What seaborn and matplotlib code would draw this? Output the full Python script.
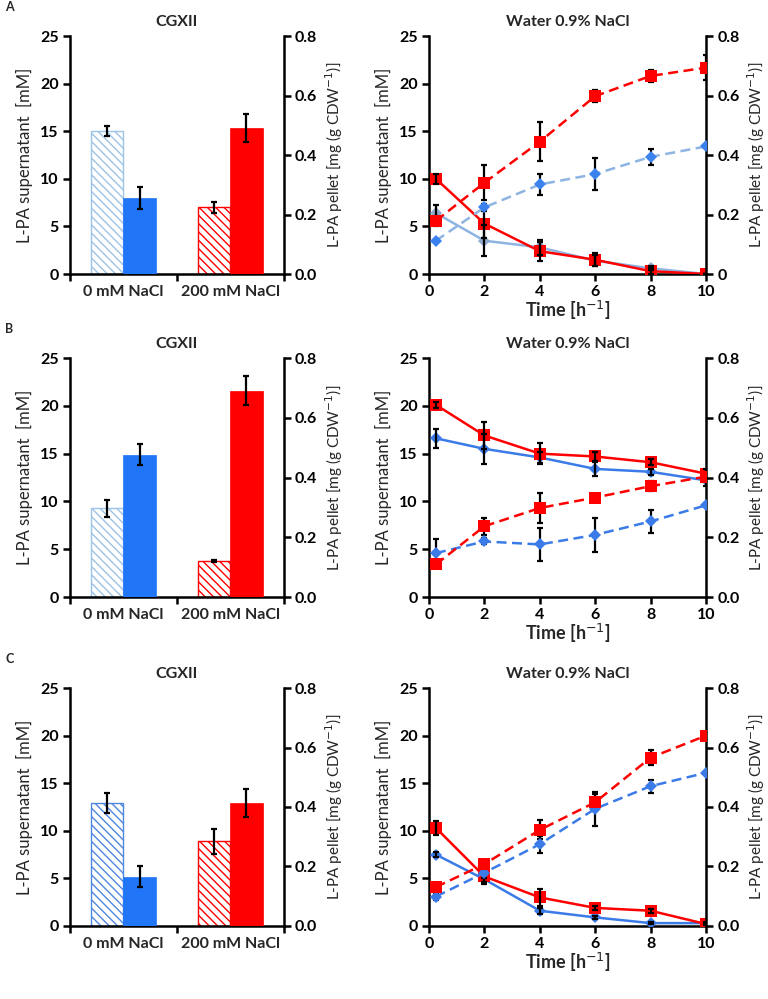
import numpy as np
import matplotlib
matplotlib.use("Agg")
import matplotlib.pyplot as plt
import seaborn as sns
from matplotlib.ticker import FixedLocator, NullFormatter, FixedFormatter

sns.set_theme(style="ticks")
plt.rcParams["font.family"] = ["Lato", "DejaVu Sans"]
plt.rcParams["hatch.linewidth"] = 1.0

# ---------------- data ----------------
conditions = ["0 mM NaCl", "200 mM NaCl"]
time = [0.25, 2, 4, 6, 8, 10]

# Bars: supernatant (hatched, mM) and pellet (solid, mg/g CDW)
A_bar_sup = [15.0, 7.0];      A_bar_sup_err = [0.5, 0.6]
A_bar_pel = [0.256, 0.491];   A_bar_pel_err = [0.036, 0.046]
B_bar_sup = [9.3, 3.8];       B_bar_sup_err = [0.9, 0.1]
B_bar_pel = [0.477, 0.691];   B_bar_pel_err = [0.035, 0.048]
C_bar_sup = [12.9, 8.9];      C_bar_sup_err = [1.05, 1.3]
C_bar_pel = [0.166, 0.413];   C_bar_pel_err = [0.035, 0.048]

# Time courses: supernatant (solid lines, mM), pellet (dashed, mg/g CDW)
A_sup_red = [10.0, 5.3, 2.4, 1.5, 0.3, 0.0];   A_sup_red_err = [0.5, 1.5, 1.0, 0.7, 0.3, 0.0]
A_sup_blue = [6.4, 3.5, 2.8, 1.4, 0.6, 0.0];   A_sup_blue_err = [0.9, 1.6, 0.8, 0.6, 0.2, 0.0]
A_pel_red = [0.179, 0.307, 0.445, 0.598, 0.666, 0.694]; A_pel_red_err = [0.016, 0.058, 0.066, 0.019, 0.019, 0.042]
A_pel_blue = [0.112, 0.224, 0.301, 0.336, 0.394, 0.429]; A_pel_blue_err = [0.006, 0.013, 0.035, 0.054, 0.026, 0.0]

B_sup_red = [20.1, 16.9, 15.0, 14.7, 14.1, 12.9]; B_sup_red_err = [0.3, 1.4, 1.1, 0.5, 0.3, 0.5]
B_sup_blue = [16.6, 15.5, 14.6, 13.4, 13.1, 12.2]; B_sup_blue_err = [1.0, 1.6, 0.6, 0.7, 0.3, 0.6]
B_pel_red = [0.109, 0.237, 0.298, 0.333, 0.371, 0.403]; B_pel_red_err = [0.010, 0.029, 0.051, 0.010, 0.016, 0.010]
B_pel_blue = [0.147, 0.186, 0.176, 0.208, 0.253, 0.307]; B_pel_blue_err = [0.048, 0.010, 0.054, 0.058, 0.038, 0.0]

C_sup_red = [10.3, 5.2, 3.0, 1.9, 1.6, 0.2];   C_sup_red_err = [0.7, 0.6, 0.9, 0.2, 0.2, 0.1]
C_sup_blue = [7.5, 4.9, 1.6, 0.9, 0.3, 0.3];   C_sup_blue_err = [0.3, 0.5, 0.3, 0.2, 0.1, 0.1]
C_pel_red = [0.131, 0.208, 0.323, 0.416, 0.566, 0.640]; C_pel_red_err = [0.010, 0.013, 0.032, 0.029, 0.026, 0.006]
C_pel_blue = [0.099, 0.179, 0.275, 0.394, 0.470, 0.515]; C_pel_blue_err = [0.013, 0.019, 0.029, 0.058, 0.022, 0.0]

left_ticks = [0, 5, 10, 15, 20, 25]
right_ticks = [0.0, 0.2, 0.4, 0.6, 0.8]
time_ticks = [0, 2, 4, 6, 8, 10]

RED = "#FF0000"
BLUE = "#2176F7"
LINE_BLUE = "#3A7BE8"
LIGHT_BLUE = "#8DB4E2"
HATCH_LIGHT = "#9DC3E6"
HATCH_C = "#4F86E0"

fig = plt.figure(figsize=(7.68, 9.99), dpi=100)

rows = [
    dict(letter="A", bottom=0.7257, height=0.2382,
         bars=(A_bar_sup, A_bar_sup_err, A_bar_pel, A_bar_pel_err, HATCH_LIGHT),
         lines=(A_sup_red, A_sup_red_err, A_sup_blue, A_sup_blue_err,
                A_pel_red, A_pel_red_err, A_pel_blue, A_pel_blue_err),
         blue_line=LIGHT_BLUE, blue_mk_sup="#8FAACC", blue_mk_pel="#3B82EE",
         rlabels=["0", "0.2", "0.4", "0.6", "0.8"]),
    dict(letter="B", bottom=0.4024, height=0.2392,
         bars=(B_bar_sup, B_bar_sup_err, B_bar_pel, B_bar_pel_err, HATCH_LIGHT),
         lines=(B_sup_red, B_sup_red_err, B_sup_blue, B_sup_blue_err,
                B_pel_red, B_pel_red_err, B_pel_blue, B_pel_blue_err),
         blue_line=LINE_BLUE, blue_mk_sup=LINE_BLUE, blue_mk_pel=LINE_BLUE,
         rlabels=["0.0", "0.2", "0.4", "0.6", "0.8"]),
    dict(letter="C", bottom=0.0731, height=0.2382,
         bars=(C_bar_sup, C_bar_sup_err, C_bar_pel, C_bar_pel_err, HATCH_C),
         lines=(C_sup_red, C_sup_red_err, C_sup_blue, C_sup_blue_err,
                C_pel_red, C_pel_red_err, C_pel_blue, C_pel_blue_err),
         blue_line=LINE_BLUE, blue_mk_sup=LINE_BLUE, blue_mk_pel=LINE_BLUE,
         rlabels=["0.0", "0.2", "0.4", "0.6", "0.8"]),
]

TICK_FS = 11.5
LABEL_FS = 12
RLABEL_FS = 11
TITLE_FS = 11.5
LW = 1.8
ekw = dict(fmt="none", ecolor="black", elinewidth=1.6, capsize=2.5, capthick=1.6, zorder=5)


def style_axes(ax, ax2):
    for a in (ax, ax2):
        a.spines["top"].set_visible(False)
        for s in ("left", "right", "bottom"):
            a.spines[s].set_linewidth(LW)
            a.spines[s].set_color("black")
        a.tick_params(width=LW, length=5, direction="out", colors="black",
                      labelsize=TICK_FS, pad=3)
    ax.spines["right"].set_visible(False)
    ax2.spines["left"].set_visible(False)
    ax2.spines["bottom"].set_visible(False)
    for lab in ax.get_yticklabels() + ax.get_xticklabels() + ax2.get_yticklabels():
        lab.set_fontweight("bold")


for r, row in enumerate(rows):
    # ---------- bar panel ----------
    ax = fig.add_axes([0.0911, row["bottom"], 0.2786, row["height"]])
    ax2 = ax.twinx()
    sup, sup_err, pel, pel_err, hcol = row["bars"]
    centers = np.arange(len(conditions)) + 0.5
    w = 0.3
    cols = [BLUE, RED]
    hcols = [hcol, RED]
    for i in range(len(conditions)):
        ax.bar(centers[i] - w / 2, sup[i], width=w, color="white",
               edgecolor=hcols[i], hatch="\\\\\\\\", linewidth=1.0, zorder=2)
        ax2.bar(centers[i] + w / 2, pel[i], width=w, color=cols[i],
                edgecolor=cols[i], linewidth=0.5, zorder=2)
    ax.errorbar(centers - w / 2, sup, yerr=sup_err, **ekw)
    ax2.errorbar(centers + w / 2, pel, yerr=pel_err, **ekw)
    ax.set_xlim(0, 2)
    ax.set_ylim(0, 25)
    ax2.set_ylim(0, 0.8)
    ax.xaxis.set_major_locator(FixedLocator([0, 1, 2]))
    ax.xaxis.set_major_formatter(NullFormatter())
    ax.xaxis.set_minor_locator(FixedLocator(list(centers)))
    ax.xaxis.set_minor_formatter(FixedFormatter(conditions))
    ax.set_yticks(left_ticks)
    ax.set_yticklabels([str(t) for t in left_ticks])
    ax2.set_yticks(right_ticks)
    ax2.set_yticklabels(["0.0", "0.2", "0.4", "0.6", "0.8"])
    style_axes(ax, ax2)
    ax.tick_params(axis="x", which="minor", length=0, labelsize=TICK_FS, pad=8)
    for lab in ax.xaxis.get_minorticklabels():
        lab.set_fontweight("bold")
    ax.set_ylabel("L-PA supernatant  [mM]", fontsize=LABEL_FS, labelpad=5)
    ax2.set_ylabel("L-PA pellet [mg (g CDW$^{-1}$)]", fontsize=RLABEL_FS, labelpad=4)
    ax.set_title("CGXII", fontsize=TITLE_FS, fontweight="bold", pad=7)

    # ---------- line panel ----------
    bx = fig.add_axes([0.5586, row["bottom"], 0.3607, row["height"]])
    bx2 = bx.twinx()
    (s_red, s_red_e, s_blue, s_blue_e, p_red, p_red_e, p_blue, p_blue_e) = row["lines"]
    bline = row["blue_line"]

    sns.lineplot(x=time, y=s_blue, ax=bx, color=bline, linewidth=1.8,
                 marker="D", markersize=6, markerfacecolor=row["blue_mk_sup"],
                 markeredgewidth=0, zorder=3)
    sns.lineplot(x=time, y=s_red, ax=bx, color=RED, linewidth=1.8,
                 marker="s", markersize=8.5, markerfacecolor=RED,
                 markeredgewidth=0, zorder=4)
    bx.errorbar(time, s_blue, yerr=s_blue_e, **ekw)
    bx.errorbar(time, s_red, yerr=s_red_e, **ekw)

    bx2.errorbar(time, p_blue, yerr=p_blue_e, **ekw)
    bx2.errorbar(time, p_red, yerr=p_red_e, **ekw)
    sns.lineplot(x=time, y=p_blue, ax=bx2, color=bline, linewidth=1.8,
                 linestyle=(0, (4.0, 2.2)), marker="D", markersize=6,
                 markerfacecolor=row["blue_mk_pel"], markeredgewidth=0, zorder=6)
    sns.lineplot(x=time, y=p_red, ax=bx2, color=RED, linewidth=1.8,
                 linestyle=(0, (4.0, 2.2)), marker="s", markersize=8.5,
                 markerfacecolor=RED, markeredgewidth=0, zorder=7)

    bx.set_xlim(0, 10)
    bx.set_ylim(0, 25)
    bx2.set_ylim(0, 0.8)
    bx.set_xticks(time_ticks)
    bx.set_xticklabels([str(t) for t in time_ticks])
    bx.set_yticks(left_ticks)
    bx.set_yticklabels([str(t) for t in left_ticks])
    bx2.set_yticks(right_ticks)
    bx2.set_yticklabels(row["rlabels"])
    style_axes(bx, bx2)
    bx.set_xlabel("Time [h$^{-1}$]", fontsize=13, fontweight="bold", labelpad=0)
    bx.set_ylabel("L-PA supernatant  [mM]", fontsize=LABEL_FS, labelpad=5)
    bx2.set_ylabel("L-PA pellet [mg (g CDW$^{-1}$)]", fontsize=RLABEL_FS, labelpad=4)
    bx.set_title("Water 0.9% NaCl", fontsize=TITLE_FS, fontweight="bold", pad=7)
    for a in (bx, bx2, ax, ax2):
        leg = a.get_legend()
        if leg is not None:
            leg.remove()

    fig.text(0.007, row["bottom"] + row["height"] + 0.023, row["letter"],
             fontsize=9, fontweight="bold", ha="left", va="bottom")

fig.savefig("out.png", dpi=100)
